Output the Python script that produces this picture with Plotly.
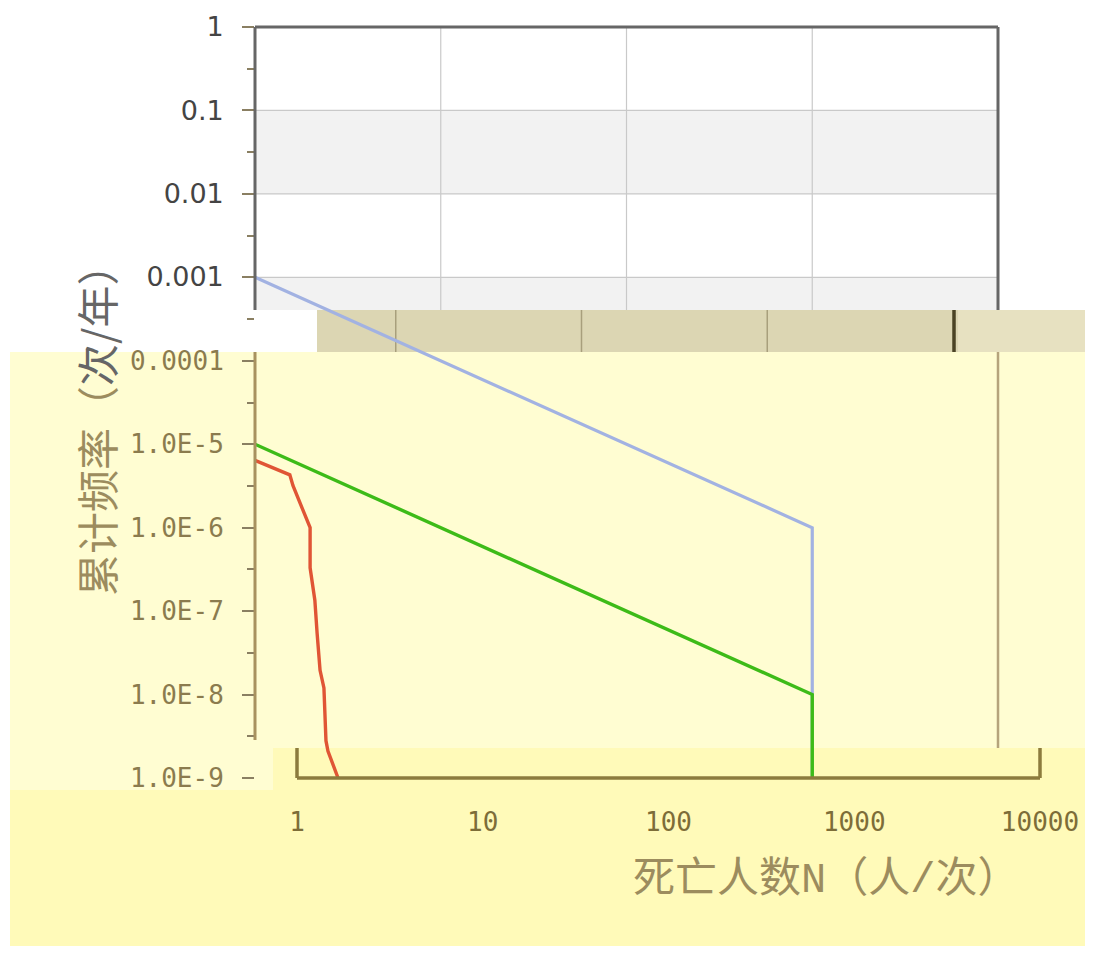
import math
import plotly.graph_objects as go

# ---------------- data ----------------
n_upper = [1, 1000, 1000]
f_upper = [1e-3, 1e-6, 1e-9]

n_lower = [1, 1000, 1000]
f_lower = [1e-5, 1e-8, 1e-9]

n_societal = [1.0, 1.54, 1.6, 1.75, 1.93, 1.98, 1.98, 2.1, 2.16, 2.24, 2.35, 2.41, 2.47, 2.8]
f_societal = [6.4e-6, 4.3e-6, 3.2e-6, 1.95e-6, 1.2e-6, 1.0e-6, 3.3e-7, 1.35e-7,
              5.4e-8, 1.95e-8, 1.2e-8, 2.8e-9, 2.1e-9, 1.0e-9]

y_tickvals = [1, 0.1, 0.01, 1e-3, 1e-4, 1e-5, 1e-6, 1e-7, 1e-8, 1e-9]
y_ticklabels = ["1", "0.1", "0.01", "0.001", "0.0001",
                "1.0E-5", "1.0E-6", "1.0E-7", "1.0E-8", "1.0E-9"]
x_tickvals = [1, 10, 100, 1000, 10000]
x_ticklabels = ["1", "10", "100", "1000", "10000"]
x_title = "死亡人数N（人/次）"
y_title_lower = "累计频率（"
y_title_upper = "次/年）"

# ---------------- layout geometry (screen pixels) ----------------
OFF = 8                     # page offset of the figure
FIG_W, FIG_H = 1093 - 2 * OFF, 954 - 2 * OFF
SCR_W, SCR_H = 1093, 954
L, R, T, B = 255, 998, 27, 778
X_RANGE = [0, 4]
Y_RANGE = [-9, 0]
CUT_TOP = 310      # bottom of white (upper) region
CUT_BAND = 352     # bottom of tan band / top of yellow region
STRIP_TOP = 748
SHIFT = 42


def px(x):
    return (x - L) / (R - L)


def py(y):
    return (B - y) / (B - T)


def yval_paper(v):
    return (math.log10(v) - Y_RANGE[0]) / (Y_RANGE[1] - Y_RANGE[0])


def xval_paper(v):
    return (math.log10(v) - X_RANGE[0]) / (X_RANGE[1] - X_RANGE[0])


BROWN = "#8b7b4e"
TITLE_BROWN = "#9c8c5e"

shapes = []


def rect(x0, y0, x1, y1, color, layer="below"):
    shapes.append(dict(type="rect", xref="paper", yref="paper",
                       x0=x0, x1=x1, y0=y0, y1=y1,
                       fillcolor=color, line=dict(width=0), layer=layer))


def seg(x0, y0, x1, y1, color, width, layer="below"):
    shapes.append(dict(type="line", xref="paper", yref="paper",
                       x0=x0, x1=x1, y0=y0, y1=y1,
                       line=dict(color=color, width=width), layer=layer))


# yellow lower region
rect(px(10), py(CUT_BAND), px(SCR_W + 20), py(SCR_H + 20), "#fffdd2")
rect(px(10), py(790), px(SCR_W + 20), py(SCR_H + 20), "#fffab9")
rect(px(273), py(STRIP_TOP), px(SCR_W + 20), py(790), "#fffab9")

# alternating grey bands in the upper white region
rect(0, yval_paper(0.01), 1, yval_paper(0.1), "#f2f2f2")
rect(0, py(CUT_TOP), 1, yval_paper(0.001), "#f2f2f2")

# grid in the upper region
for v in y_tickvals[:4]:
    seg(0, yval_paper(v), 1, yval_paper(v), "#c9c9c9", 1.2)
for v in x_tickvals[1:4]:
    seg(xval_paper(v), py(CUT_TOP), xval_paper(v), 1, "#c9c9c9", 1.2)

# tan band
rect(px(317), py(CUT_BAND), px(SCR_W + 20), py(CUT_TOP), "#dcd6b3")
rect(px(958), py(CUT_BAND), px(SCR_W + 20), py(CUT_TOP), "#e7e1c1")
for v in x_tickvals[1:4]:
    xx = xval_paper(v) - 45 / (R - L)
    seg(xx, py(CUT_BAND), xx, py(CUT_TOP), "#a89f7c", 1.5)
xx = xval_paper(10000) - 44 / (R - L)
seg(xx, py(CUT_BAND), xx, py(CUT_TOP), "#4b4325", 3.5)

# frame: grey in upper part
seg(0, py(CUT_TOP), 0, 1, "#666666", 3, "above")
seg(0, 1, 1, 1, "#666666", 3, "above")
seg(1, py(CUT_TOP), 1, 1, "#666666", 3, "above")
# frame: brown in lower part
seg(0, py(STRIP_TOP - 8), 0, py(CUT_BAND), "#a8925f", 3, "above")
seg(1, py(STRIP_TOP), 1, py(CUT_BAND), "#b5a47c", 2.5, "above")
# shifted bottom axis strip
seg(px(L + SHIFT), 0, px(R + SHIFT), 0, "#8c7b3d", 3.5, "above")
seg(px(L + SHIFT), 0, px(L + SHIFT), py(STRIP_TOP), "#8c7b3d", 3.5, "above")
seg(px(R + SHIFT), 0, px(R + SHIFT), py(STRIP_TOP), "#8c7b3d", 3.5, "above")

# ---------------- traces ----------------
fig = go.Figure()
fig.add_trace(go.Scatter(x=n_upper, y=f_upper, mode="lines",
                         line=dict(color="#a2b2e2", width=3.2), showlegend=False))
fig.add_trace(go.Scatter(x=n_lower, y=f_lower, mode="lines",
                         line=dict(color="#3dbb18", width=3.4), showlegend=False))
fig.add_trace(go.Scatter(x=n_societal, y=f_societal, mode="lines",
                         line=dict(color="#e05535", width=3.4), showlegend=False))

# tick label text: grey sans in the upper region, brown mono below
y_ticktext = []
for i, t in enumerate(y_ticklabels):
    if i < 4:
        y_ticktext.append(
            '<span style="color:#444444;font-family:DejaVu Sans;font-size:27px">'
            + t + '</span>')
    else:
        y_ticktext.append(t)

minor_vals = [10 ** (-k - 0.5) for k in range(9)]

fig.update_layout(
    width=FIG_W, height=FIG_H,
    margin=dict(l=L - OFF, r=(OFF + FIG_W) - R, t=T - OFF, b=(OFF + FIG_H) - B),
    paper_bgcolor="white",
    plot_bgcolor="rgba(0,0,0,0)",
    shapes=shapes,
    xaxis=dict(type="log", range=X_RANGE, showgrid=False, zeroline=False,
               showline=False, tickmode="array", tickvals=x_tickvals,
               ticktext=x_ticklabels, ticks="", automargin=False,
               ticklabelshift=SHIFT, ticklabelstandoff=26,
               tickfont=dict(family="DejaVu Sans Mono", size=26, color="#7d6d38")),
    yaxis=dict(type="log", range=Y_RANGE, showgrid=False, zeroline=False,
               showline=False, tickmode="array", tickvals=y_tickvals,
               ticktext=y_ticktext, ticks="outside", ticklen=12, tickwidth=1.5,
               tickcolor="#8a7f62", automargin=False, ticklabelstandoff=13,
               tickfont=dict(family="DejaVu Sans Mono", size=26, color=BROWN),
               minor=dict(tickvals=minor_vals, ticks="outside", ticklen=7,
                          tickwidth=1.5, tickcolor="#8a7f62", showgrid=False)),
    annotations=[
        dict(text=x_title, xref="paper", yref="paper", x=px(826), y=py(880),
             showarrow=False, xanchor="center", yanchor="middle",
             font=dict(family="Liberation Mono, Noto Sans CJK SC", size=42,
                       color=TITLE_BROWN)),
        dict(text='<span style="color:' + TITLE_BROWN + '">' + y_title_lower +
             '</span><span style="color:#666666">' + y_title_upper + '</span>',
             xref="paper", yref="paper", x=px(95), y=py(420),
             textangle=-90, showarrow=False, xanchor="center", yanchor="middle",
             font=dict(family="Noto Sans CJK SC", size=42, color=TITLE_BROWN)),
    ],
)

fig.write_html("out.html")
